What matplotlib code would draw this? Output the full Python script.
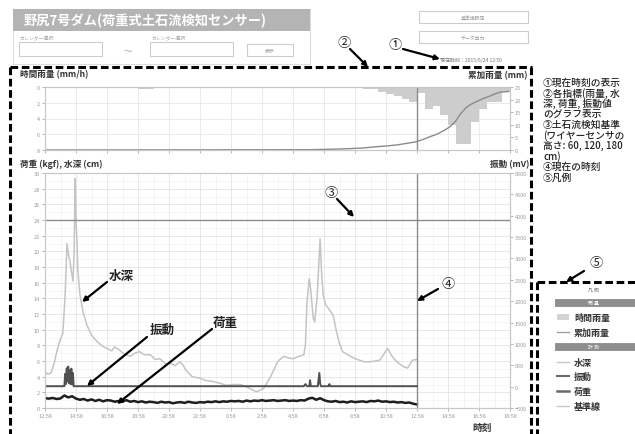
import matplotlib.pyplot as plt
from matplotlib.patches import Rectangle
import numpy as np

plt.rcParams['font.family'] = ['Noto Sans CJK JP', 'DejaVu Sans']

# time axis: hours after 12:58
tick_labels = ['12:58', '14:58', '16:58', '18:58', '20:58', '22:58', '0:58', '2:58',
               '4:58', '6:58', '8:58', '10:58', '12:58', '14:58', '16:58', '18:58']
now_h = 24
threshold_cm = 24

# water depth (cm)
depth_h = [0.0, 0.2, 0.4, 0.6, 0.8, 1.0, 1.15, 1.3, 1.42, 1.52, 1.61, 1.7, 1.81, 1.88,
           1.95, 2.0, 2.06, 2.12, 2.26, 2.45, 2.7, 3.0, 3.35, 3.7, 4.0, 4.3, 4.5, 4.8,
           5.1, 5.5, 5.8, 6.1, 6.4, 6.8, 7.1, 7.4, 7.8, 8.1, 8.4, 8.7, 8.9, 9.1, 9.5,
           10.0, 10.4, 10.8, 11.2, 11.7, 12.2, 12.6, 12.9, 13.2, 13.5, 13.7, 14.1, 14.5,
           14.8, 15.0, 15.4, 15.7, 16.0, 16.4, 16.7, 16.8, 16.9, 17.05, 17.15, 17.3,
           17.4, 17.55, 17.75, 17.85, 17.95, 18.1, 18.3, 18.6, 18.8, 19.0, 19.2, 19.7,
           20.0, 20.3, 20.6, 21.0, 21.3, 21.6, 21.9, 22.1, 22.4, 22.7, 23.1, 23.4,
           23.7, 24.0]
depth_cm = [4.6, 4.3, 4.5, 5.8, 7.5, 8.8, 9.5, 14.5, 21.0, 19.5, 18.8, 17.5, 16.2, 20.0,
            29.3, 24.0, 21.2, 17.5, 14.4, 12.3, 10.6, 9.3, 8.5, 7.9, 7.6, 7.3, 7.8, 7.4,
            6.9, 6.6, 7.0, 7.2, 6.8, 6.8, 6.2, 6.3, 5.6, 5.7, 5.4, 5.9, 5.5, 4.8, 4.0,
            3.8, 3.5, 3.4, 3.2, 2.9, 3.0, 3.0, 2.8, 2.5, 2.2, 2.1, 2.5, 3.8,
            5.0, 5.9, 6.6, 6.4, 6.3, 6.6, 6.8, 8.0, 13.6, 16.5, 15.0, 11.5,
            11.0, 14.0, 21.6, 17.0, 14.4, 13.2, 12.7, 11.8, 9.8, 8.2, 7.2, 6.6,
            6.3, 6.1, 5.9, 5.9, 6.0, 6.1, 7.0, 7.6, 6.6, 5.9, 5.3, 5.1,
            6.1, 6.2]

# vibration (mV)
vib_h = [0.0, 1.25, 1.3, 1.35, 1.4, 1.45, 1.5, 1.55, 1.6, 1.65, 1.7, 1.75, 1.8, 1.85,
         16.7, 16.8, 16.9, 17.05, 17.1, 17.15, 17.6, 17.7, 17.75, 17.8, 18.3, 18.35,
         18.4, 24.0]
vib_mv = [10, 10, 300, 60, 430, 120, 470, 80, 380, 60, 420, 50, 320, 10,
          10, 60, 10, 10, 150, 10, 10, 320, 80, 10, 10, 60,
          10, 10]

# load (kgf), one value every 15 minutes
load_kgf = [1.25, 1.20, 1.28, 1.15, 1.22,
            1.60, 1.35, 1.50, 1.20,
            1.05, 1.15, 0.95, 1.10,
            0.90, 1.05, 0.85, 1.00,
            0.95, 0.80, 0.90, 0.85,
            1.00, 0.80, 0.90, 0.75,
            0.85, 0.70, 0.80, 0.75,
            0.65, 0.80, 0.70, 0.75,
            0.60, 0.70, 0.75, 0.65,
            0.80, 0.70, 0.65, 0.75,
            0.70, 0.80, 0.75, 0.85,
            0.75, 0.85, 0.80, 0.90,
            0.85, 0.90, 0.80, 0.95,
            0.85, 0.95, 0.90, 1.00,
            0.90, 0.95, 1.00, 0.90,
            0.95, 1.00, 0.90, 0.95,
            0.90, 1.00, 0.95, 1.20,
            1.30, 1.05, 1.25, 1.00,
            0.85, 0.80, 0.90, 0.75,
            0.80, 0.70, 0.85, 0.75,
            0.80, 0.85, 0.75, 0.90,
            0.85, 0.95, 0.80, 0.85,
            0.75, 0.80, 0.70, 0.75,
            0.65, 0.70, 0.55, 0.45]
load_h = np.arange(len(load_kgf)) * 0.25

# hourly rainfall (mm/h), 30 minute bins
rain_h = [2.5, 6.0, 6.5, 17.5, 18.5, 19.5, 20.5, 21.0, 21.5, 22.0, 22.5, 23.0, 23.5,
          24.0, 24.5, 25.0, 25.5, 26.0, 26.5, 27.0, 27.5, 28.0, 28.5, 29.0, 29.5]
rain_mm = [0.1, 0.3, 0.2, 0.1, 0.15, 0.1, 0.2, 0.3, 0.6, 0.9, 1.2, 1.5, 1.9,
           0.7, 2.8, 2.4, 3.5, 4.8, 7.2, 7.2, 4.4, 2.8, 1.9, 1.9, 0.6]

# cumulative rainfall (mm)
cum_h = [0, 17, 18.4, 19.5, 20.5, 21.2, 22, 22.7, 23.3, 23.9, 24.4, 24.8, 25.3, 25.7,
         26.1, 26.5, 26.8, 27.2, 27.5, 27.9, 28.3, 28.7, 29.0, 29.4, 29.9]
cum_mm = [0, 0.1, 0.3, 0.5, 0.8, 1.2, 1.6, 2.0, 2.6, 3.2, 4.2, 5.2, 6.3, 7.6,
          9.1, 11.5, 14.3, 17.0, 18.2, 19.4, 20.5, 21.4, 22.2, 23.0, 23.2]

W, H = 635, 435
fig = plt.figure(figsize=(W / 100, H / 100), dpi=100)


def box(l, t, r, b):
    return [l / W, 1 - b / H, (r - l) / W, (b - t) / H]


def style(a):
    for s in a.spines.values():
        s.set_color('#c8c8c8')
        s.set_linewidth(0.8)
    a.tick_params(labelsize=4, colors='#9a9a9a', length=2, width=0.5, pad=1.5)


# ---- rainfall panel ----
ax_r = fig.add_axes(box(45, 88, 510, 151))
ax_r.bar(rain_h, rain_mm, width=0.5, align='edge', color='#cdcdcd', lw=0)
ax_r.set_xlim(0, 30)
ax_r.set_ylim(8, 0)
ax_r.set_yticks([0, 2, 4, 6, 8])
ax_r.set_xticks(range(0, 31, 2))
ax_r.set_xticklabels([])
ax_r.grid(color='#e8e8e8', lw=0.6)
ax_r.set_axisbelow(True)
ax_r.axvline(now_h, color='#8c8c8c', lw=1)
style(ax_r)
ax_c = ax_r.twinx()
ax_c.plot(cum_h, cum_mm, color='#8a8a8a', lw=1)
ax_c.set_ylim(0, 25)
ax_c.set_yticks(range(0, 26, 5))
style(ax_c)

# ---- sensor panel ----
ax = fig.add_axes(box(45, 174, 510, 409))
ax.plot(depth_h, depth_cm, color='#c4c4c4', lw=1.1)
ax.plot(load_h, load_kgf, color='#1e1e1e', lw=1.8)
ax.axhline(threshold_cm, color='#8c8c8c', lw=1)
ax.axvline(now_h, color='#8c8c8c', lw=1)
ax.set_xlim(0, 30)
ax.set_ylim(0, 30)
ax.set_yticks(range(0, 31, 2))
ax.set_yticks(range(0, 31, 1), minor=True)
ax.set_xticks(range(0, 31, 2))
ax.set_xticks(range(0, 31, 1), minor=True)
ax.set_xticklabels(tick_labels)
ax.grid(which='major', color='#e4e4e4', lw=0.6)
ax.grid(which='minor', color='#f2f2f2', lw=0.5)
ax.tick_params(which='minor', length=0)
ax.set_axisbelow(True)
style(ax)
ax2 = ax.twinx()
ax2.plot(vib_h, vib_mv, color='#505050', lw=1.4)
ax2.set_ylim(-500, 5000)
ax2.set_yticks(range(-500, 5001, 500))
style(ax2)

# ---- page elements ----
ov = fig.add_axes([0, 0, 1, 1])
ov.set_xlim(0, W)
ov.set_ylim(H, 0)
ov.axis('off')
ov.patch.set_visible(False)

# header block
ov.add_patch(Rectangle((13, 10), 297, 55, fc='white', ec='#dddddd', lw=0.8))
ov.add_patch(Rectangle((13, 10), 297, 22, fc='#b4b4b4', ec='none'))
ov.text(24, 21, '野尻7号ダム(荷重式土石流検知センサー)', color='white',
        fontsize=9.5, fontweight='bold', va='center')
for x0 in (19, 150):
    ov.text(x0 + 1, 38, 'カレンダー選択', fontsize=3.5, color='#aaaaaa', va='center')
    ov.add_patch(Rectangle((x0, 43), 83, 14, fc='white', ec='#cccccc', lw=0.8))
ov.text(128, 51, '～', fontsize=6, color='#999999', ha='center', va='center')
ov.add_patch(Rectangle((247, 45), 46, 12, fc='white', ec='#cccccc', lw=0.8))
ov.text(270, 51, '表示', fontsize=3.5, color='#999999', ha='center', va='center')
for y0, lab in ((12, '基準値設定'), (32, 'データ出力')):
    ov.add_patch(Rectangle((419, y0), 109, 12, fc='white', ec='#cccccc', lw=0.8))
    ov.text(473, y0 + 6, lab, fontsize=3.5, color='#999999', ha='center', va='center')
ov.text(440, 60, '現在時刻：2015/6/24 12:50', fontsize=3.6, color='#777777', va='center')

# axis titles
bold = dict(fontweight='bold', color='#333333', va='center')
ov.text(20, 75, '時間雨量 (mm/h)', fontsize=6.2, **bold)
ov.text(527, 76, '累加雨量 (mm)', fontsize=6.2, ha='right', **bold)
ov.text(20, 164, '荷重 (kgf), 水深 (cm)', fontsize=6.2, **bold)
ov.text(529, 165, '振動 (mV)', fontsize=6.2, ha='right', **bold)
ov.text(482, 428, '時刻', fontsize=7, ha='center', **bold)

# dashed frames
dash = dict(color='black', lw=2.2, ls=(0, (2.5, 1.2)), solid_capstyle='butt')
ov.plot([10, 532], [68, 68], **dash)
ov.plot([10, 10], [68, 435], **dash)
ov.plot([531, 531], [68, 435], **dash)
ov.plot([537, 635], [283, 283], **dash)
ov.plot([537, 537], [283, 435], **dash)

# callouts
arrow = dict(arrowstyle='-|>', color='black', lw=1.6, mutation_scale=7,
             shrinkA=0, shrinkB=0)
for lab, pos in (('①', (395, 46)), ('②', (344, 44)), ('③', (331, 194)),
                 ('④', (448, 285)), ('⑤', (596, 264))):
    ov.text(*pos, lab, fontsize=9.5, ha='center', va='center', color='#222222')
for tail, head in (((403, 50), (440, 60)), ((350, 50), (368, 68)),
                   ((337, 200), (354, 218)), ((438, 290), (417, 302)),
                   ((584, 272), (566, 283)),
                   ((107, 283), (82, 303)), ((147, 338), (87, 387)),
                   ((212, 330), (117, 405))):
    ov.annotate('', xy=head, xytext=tail, arrowprops=arrow)
call = dict(fontsize=9, ha='center', va='center', color='#222222', fontweight='bold')
ov.text(121, 276, '水深', **call)
ov.text(162, 330, '振動', **call)
ov.text(225, 323, '荷重', **call)

# notes
notes = ['①現在時刻の表示', '②各指標(雨量, 水', '深, 荷重, 振動値', 'のグラフ表示',
         '③土石流検知基準', '(ワイヤーセンサの', '高さ: 60, 120, 180',
         'cm)', '④現在の時刻', '⑤凡例']
for i, line in enumerate(notes):
    ov.text(543, 83 + i * 10.5, line, fontsize=7, color='#222222', va='center',
            fontweight='medium')

# legend
ov.text(593, 290, '凡 例', fontsize=3.5, color='#666666', ha='center', va='center')
for y0, lab in ((300, '雨 量'), (344, '計 測')):
    ov.add_patch(Rectangle((555, y0), 80, 7, fc='#8e8e8e', ec='#808080', lw=0.5))
    ov.text(593, y0 + 3.5, lab, fontsize=3.5, color='white', ha='center', va='center')
ov.add_patch(Rectangle((557, 315), 12, 6, fc='#d4d4d4', ec='none'))
ov.text(574, 318, '時間雨量', fontsize=6.5, **bold)
legend_lines = [(333, '累加雨量', '#a0a0a0', 1.0), (363, '水深', '#c8c8c8', 1.0),
                (377, '振動', '#6a6a6a', 1.5), (392, '荷重', '#6a6a6a', 1.8),
                (407, '基準線', '#c8c8c8', 1.0)]
for y0, lab, col, lw in legend_lines:
    ov.plot([557, 569], [y0, y0], color=col, lw=lw)
    ov.text(574, y0, lab, fontsize=6.5, **bold)

fig.savefig('out.png', dpi=100)
